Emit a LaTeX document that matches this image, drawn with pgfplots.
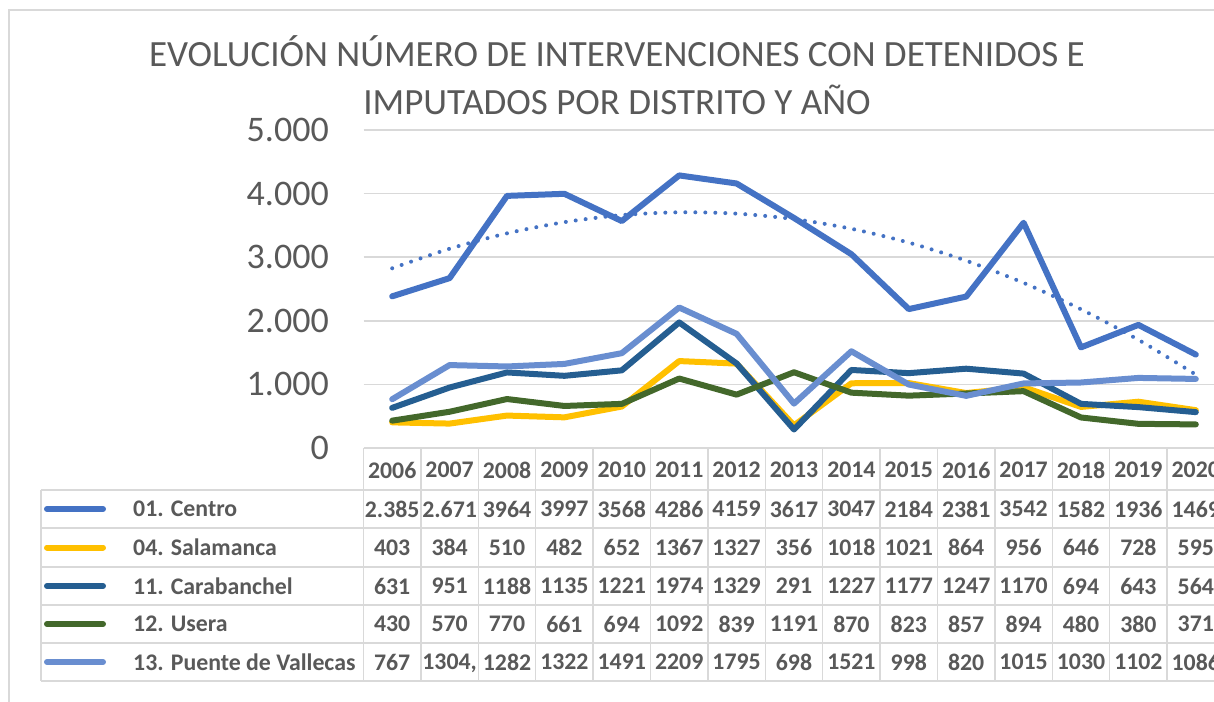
\documentclass[border=0pt]{standalone}
\usepackage{pgfplots}
\pgfplotsset{compat=1.18}
\usepackage{pgfplotstable}
\usepackage{fontspec}
\setmainfont{Carlito}
\definecolor{txt}{HTML}{595959}
\definecolor{gridc}{HTML}{D9D9D9}
\definecolor{cCentro}{HTML}{4472C4}
\definecolor{cSal}{HTML}{FFC000}
\definecolor{cCar}{HTML}{255E91}
\definecolor{cUse}{HTML}{43682B}
\definecolor{cVal}{HTML}{698ED0}

\pgfplotstableread{
x centro salamanca carabanchel usera vallecas trend
0  2385 403  631  430  767  2826
1  2671 384  951  570  1304 3133
2  3964 510  1188 770  1282 3375
3  3997 482  1135 661  1322 3551
4  3568 652  1221 694  1491 3662
5  4286 1367 1974 1092 2209 3706
6  4159 1327 1329 839  1795 3685
7  3617 356  291  1191 698  3599
8  3047 1018 1227 870  1521 3447
9  2184 1021 1177 823  998  3229
10 2381 864  1247 857  820  2945
11 3542 956  1170 894  1015 2596
12 1582 646  694  480  1030 2181
13 1936 728  643  380  1102 1701
14 1469 595  564  371  1086 1154
}\data

\begin{document}
\begin{tikzpicture}
\useasboundingbox (0,0) rectangle (1214bp,-702bp);
\clip (0,0) rectangle (1214bp,-702bp);
\fill[white] (0,0) rectangle (1214bp,-702bp);
\draw[gridc, line width=1.5bp] (9bp,-1000bp) -- (9bp,-10bp) -- (1300bp,-10bp);

\begin{axis}[
  at={(363.5bp,-448bp)}, anchor=south west,
  scale only axis, width=861bp, height=318bp,
  xmin=-0.5, xmax=14.5, ymin=0, ymax=5000,
  clip=false,
  axis line style={draw=none},
  xtick=\empty,
  ytick={0,1000,2000,3000,4000,5000},
  yticklabels={0,1.000,2.000,3.000,4.000,5.000},
  major tick length=0pt,
  ymajorgrids, grid style={gridc, line width=1.5bp},
  yticklabel style={font=\fontsize{36bp}{40bp}\selectfont, text=txt, anchor=east, inner sep=0pt, xshift=-34.5bp},
  every axis plot/.append style={line width=6bp, line join=round, line cap=round},
]
\addplot[cCentro] table[x=x, y=centro] {\data};
\addplot[cCentro, smooth, line width=4bp, dash pattern=on 0bp off 10bp] table[x=x, y=trend] {\data};
\addplot[cSal] table[x=x, y=salamanca] {\data};
\addplot[cCar] table[x=x, y=carabanchel] {\data};
\addplot[cUse] table[x=x, y=usera] {\data};
\addplot[cVal] table[x=x, y=vallecas] {\data};
\end{axis}

\begin{scope}[x=1bp, y=-1bp]
% title
\node[text=txt, font=\fontsize{37bp}{42bp}\selectfont, anchor=base] at (617,66) {EVOLUCIÓN NÚMERO DE INTERVENCIONES CON DETENIDOS E};
\node[text=txt, font=\fontsize{37bp}{42bp}\selectfont, anchor=base] at (617,114) {IMPUTADOS POR DISTRITO Y AÑO};
% table grid
\foreach \yy in {490,528,567,605,643,681} \draw[gridc, line width=1.5bp] (41,\yy) -- (1230,\yy);
\draw[gridc, line width=1.5bp] (41,490) -- (41,681);
\foreach \k in {0,...,15} \draw[gridc, line width=1.5bp] ({363.5+57.4*\k},448) -- ({363.5+57.4*\k},681);
\tikzset{cell/.style={text=txt, font=\fontsize{23.8bp}{26bp}\selectfont\bfseries, inner sep=0pt, text depth=0pt}}
% header
\foreach \k in {0,...,14} {\pgfmathtruncatemacro{\yr}{2006+\k}
  \node[cell] at ({392.2+57.4*\k},470) {\yr};}
% legend keys and labels
\foreach \c/\yy/\lab in {cCentro/509/{01. Centro}, cSal/547.5/{04. Salamanca}, cCar/586/{11. Carabanchel}, cUse/624/{12. Usera}, cVal/662/{13. Puente de Vallecas}} {
  \draw[\c, line width=6bp, line cap=round] (47,\yy) -- (103,\yy);
  \node[cell, anchor=west] at (133,\yy) {\lab};
}
% values
\foreach \v [count=\i from 0] in {2.385,2.671,3964,3997,3568,4286,4159,3617,3047,2184,2381,3542,1582,1936,1469}
  \node[cell] at ({392.2+57.4*\i},509) {\v};
\foreach \v [count=\i from 0] in {403,384,510,482,652,1367,1327,356,1018,1021,864,956,646,728,595}
  \node[cell] at ({392.2+57.4*\i},547.5) {\v};
\foreach \v [count=\i from 0] in {631,951,1188,1135,1221,1974,1329,291,1227,1177,1247,1170,694,643,564}
  \node[cell] at ({392.2+57.4*\i},586) {\v};
\foreach \v [count=\i from 0] in {430,570,770,661,694,1092,839,1191,870,823,857,894,480,380,371}
  \node[cell] at ({392.2+57.4*\i},624) {\v};
\foreach \v [count=\i from 0] in {767,{1304,},1282,1322,1491,2209,1795,698,1521,998,820,1015,1030,1102,1086}
  \node[cell] at ({392.2+57.4*\i},662) {\v};
\end{scope}
\end{tikzpicture}
\end{document}
